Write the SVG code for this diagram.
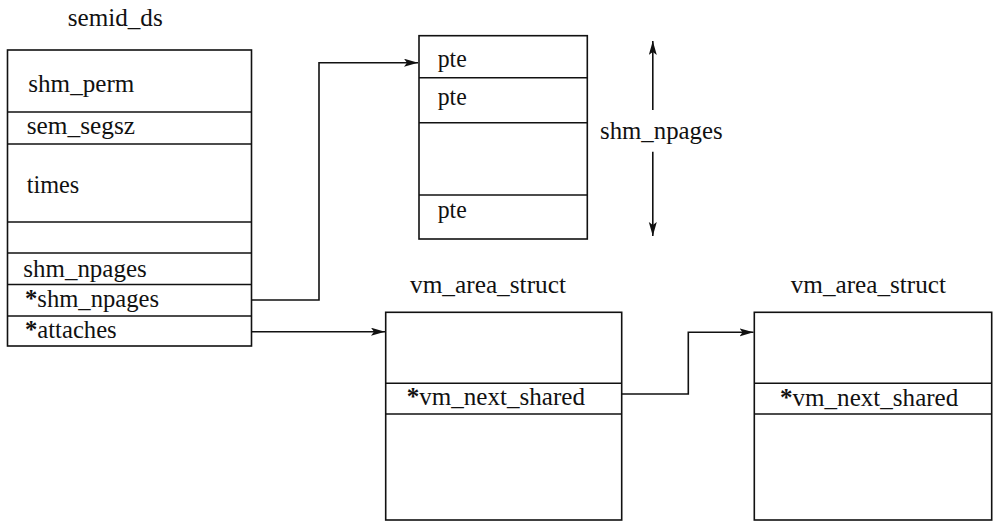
<svg xmlns="http://www.w3.org/2000/svg" width="1000" height="529" viewBox="0 0 1000 529">
<style>
.box{fill:#fff;stroke:#111;stroke-width:1.6}
.div{stroke:#111;stroke-width:1.6}
.t{font-family:"Liberation Serif","Times New Roman",serif;font-size:25px;fill:#111}
.b{font-weight:bold}
.conn{fill:none;stroke:#111;stroke-width:1.6}
</style>
<defs>
<marker id="ah" markerUnits="userSpaceOnUse" markerWidth="16" markerHeight="10" refX="14" refY="4" orient="auto">
<path d="M0,0 L14,4 L0,8 L3,4 z" fill="#111"/>
</marker>
</defs>
<rect width="1000" height="529" fill="#fff"/>
<g id="semid_ds">
<text class="t" x="67.7" y="26" textLength="95" lengthAdjust="spacingAndGlyphs">semid_ds</text>
<rect class="box" x="7.5" y="50" width="244" height="296"/>
<line class="div" x1="7.5" y1="112" x2="251.5" y2="112"/>
<line class="div" x1="7.5" y1="144" x2="251.5" y2="144"/>
<line class="div" x1="7.5" y1="222" x2="251.5" y2="222"/>
<line class="div" x1="7.5" y1="253" x2="251.5" y2="253"/>
<line class="div" x1="7.5" y1="284.5" x2="251.5" y2="284.5"/>
<line class="div" x1="7.5" y1="316" x2="251.5" y2="316"/>
<text class="t" x="28.3" y="91.5" textLength="106" lengthAdjust="spacingAndGlyphs">shm_perm</text>
<text class="t" x="26.7" y="133.5" textLength="108.3" lengthAdjust="spacingAndGlyphs">sem_segsz</text>
<text class="t" x="26.7" y="192.7" textLength="52.6" lengthAdjust="spacingAndGlyphs">times</text>
<text class="t" x="23.3" y="276.7" textLength="123.4" lengthAdjust="spacingAndGlyphs">shm_npages</text>
<text class="t" x="25" y="306.7" textLength="134" lengthAdjust="spacingAndGlyphs"><tspan class="b">*</tspan>shm_npages</text>
<text class="t" x="25" y="338.3" textLength="91.7" lengthAdjust="spacingAndGlyphs"><tspan class="b">*</tspan>attaches</text>
</g>
<g id="pte_table">
<rect class="box" x="419" y="35.7" width="168.3" height="203.3"/>
<line class="div" x1="419" y1="77.7" x2="587.3" y2="77.7"/>
<line class="div" x1="419" y1="122.7" x2="587.3" y2="122.7"/>
<line class="div" x1="419" y1="195" x2="587.3" y2="195"/>
<text class="t" x="437.7" y="66.7" textLength="29" lengthAdjust="spacingAndGlyphs">pte</text>
<text class="t" x="437.7" y="105" textLength="29" lengthAdjust="spacingAndGlyphs">pte</text>
<text class="t" x="437.7" y="218.3" textLength="29" lengthAdjust="spacingAndGlyphs">pte</text>
</g>
<g id="npages_dim">
<text class="t" x="600" y="139" textLength="122.7" lengthAdjust="spacingAndGlyphs">shm_npages</text>
<line class="conn" x1="652.8" y1="110" x2="652.8" y2="41" marker-end="url(#ah)"/>
<line class="conn" x1="652.8" y1="151.7" x2="652.8" y2="236" marker-end="url(#ah)"/>
</g>
<g id="vm_area_1">
<text class="t" x="410" y="293.3" textLength="156" lengthAdjust="spacingAndGlyphs">vm_area_struct</text>
<rect class="box" x="385.7" y="312.3" width="236" height="207.7"/>
<line class="div" x1="385.7" y1="383.3" x2="621.7" y2="383.3"/>
<line class="div" x1="385.7" y1="414" x2="621.7" y2="414"/>
<text class="t" x="406.7" y="405" textLength="178.3" lengthAdjust="spacingAndGlyphs"><tspan class="b">*</tspan>vm_next_shared</text>
</g>
<g id="vm_area_2">
<text class="t" x="790.7" y="293.3" textLength="155.3" lengthAdjust="spacingAndGlyphs">vm_area_struct</text>
<rect class="box" x="754.3" y="312.3" width="237.4" height="207.7"/>
<line class="div" x1="754.3" y1="383.3" x2="991.7" y2="383.3"/>
<line class="div" x1="754.3" y1="414" x2="991.7" y2="414"/>
<text class="t" x="780" y="406" textLength="178.3" lengthAdjust="spacingAndGlyphs"><tspan class="b">*</tspan>vm_next_shared</text>
</g>
<g id="connectors">
<polyline class="conn" points="251.7,300 319,300 319,62.7 418,62.7" marker-end="url(#ah)"/>
<polyline class="conn" points="251.7,331.7 385,331.7" marker-end="url(#ah)"/>
<polyline class="conn" points="621.7,394 688.3,394 688.3,332.3 753.5,332.3" marker-end="url(#ah)"/>
</g>
</svg>
